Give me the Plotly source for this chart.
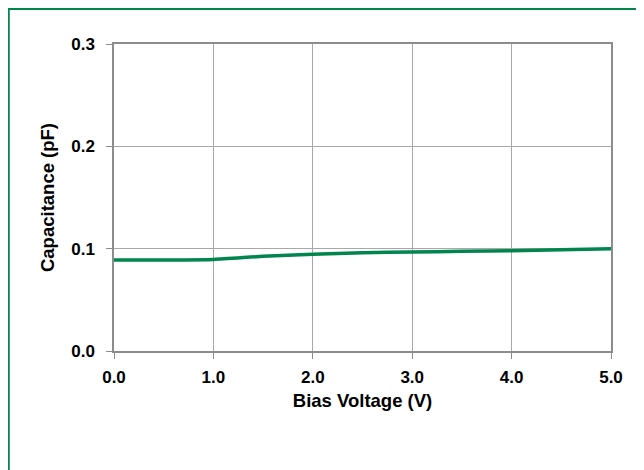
import plotly.graph_objects as go

bias_v = [0.0, 0.5, 1.0, 1.5, 2.0, 2.5, 3.0, 3.5, 4.0, 4.5, 5.0]
cap_pf = [0.089, 0.089, 0.0895, 0.0925, 0.0945, 0.096, 0.0967, 0.0975, 0.098, 0.099, 0.100]
x_ticks = [0, 1, 2, 3, 4, 5]
x_labels = ["0.0", "1.0", "2.0", "3.0", "4.0", "5.0"]
y_ticks = [0, 0.1, 0.2, 0.3]
y_labels = ["0.0", "0.1", "0.2", "0.3"]

GREEN = "#00854F"
FONT = "Liberation Sans"

# page offset (~8px body margin) compensated in margins
L, R, T, B = 106, 41, 36, 127
PW, PH = 644 - L - R, 470 - T - B

fig = go.Figure()
fig.add_trace(go.Scatter(x=bias_v, y=cap_pf, mode="lines",
                         line=dict(color=GREEN, width=3.5, shape="spline", smoothing=0.6),
                         showlegend=False, hoverinfo="skip"))

fig.update_layout(
    width=644, height=470,
    margin=dict(l=L, r=R, t=T, b=B),
    paper_bgcolor="white", plot_bgcolor="white",
    font=dict(family=FONT, color="black"),
    shapes=[
        dict(type="line", xref="paper", yref="paper",
             x0=(0 - L) / PW, x1=(700 - L) / PW,
             y0=(T + PH - 0.8) / PH, y1=(T + PH - 0.8) / PH,
             line=dict(color=GREEN, width=2.5)),
        dict(type="line", xref="paper", yref="paper",
             x0=(0.5 - L) / PW, x1=(0.5 - L) / PW,
             y0=(T + PH - 0) / PH, y1=(T + PH - 520) / PH,
             line=dict(color=GREEN, width=2.5)),
    ],
)

fig.update_xaxes(
    range=[0, 5], tickvals=x_ticks, ticktext=x_labels,
    showgrid=True, gridcolor="#A8A8A8", gridwidth=1,
    showline=True, linecolor="#8C8C8C", linewidth=1.5, mirror=True,
    ticks="outside", ticklen=6, tickcolor="#8C8C8C",
    tickfont=dict(family=FONT, size=17, weight="bold"),
    ticklabelstandoff=4,
    zeroline=False,
    title=dict(text="Bias Voltage (V)", font=dict(family=FONT, size=18.5, weight="bold"), standoff=8),
)
fig.update_yaxes(
    range=[0, 0.3], tickvals=y_ticks, ticktext=y_labels,
    showgrid=True, gridcolor="#A8A8A8", gridwidth=1,
    showline=True, linecolor="#8C8C8C", linewidth=1.5, mirror=True,
    ticks="outside", ticklen=6, tickcolor="#8C8C8C",
    tickfont=dict(family=FONT, size=17, weight="bold"),
    ticklabelstandoff=8,
    zeroline=False,
    title=dict(text="Capacitance (pF)", font=dict(family=FONT, size=18.5, weight="bold"), standoff=12),
)

fig.write_html("out.html")
